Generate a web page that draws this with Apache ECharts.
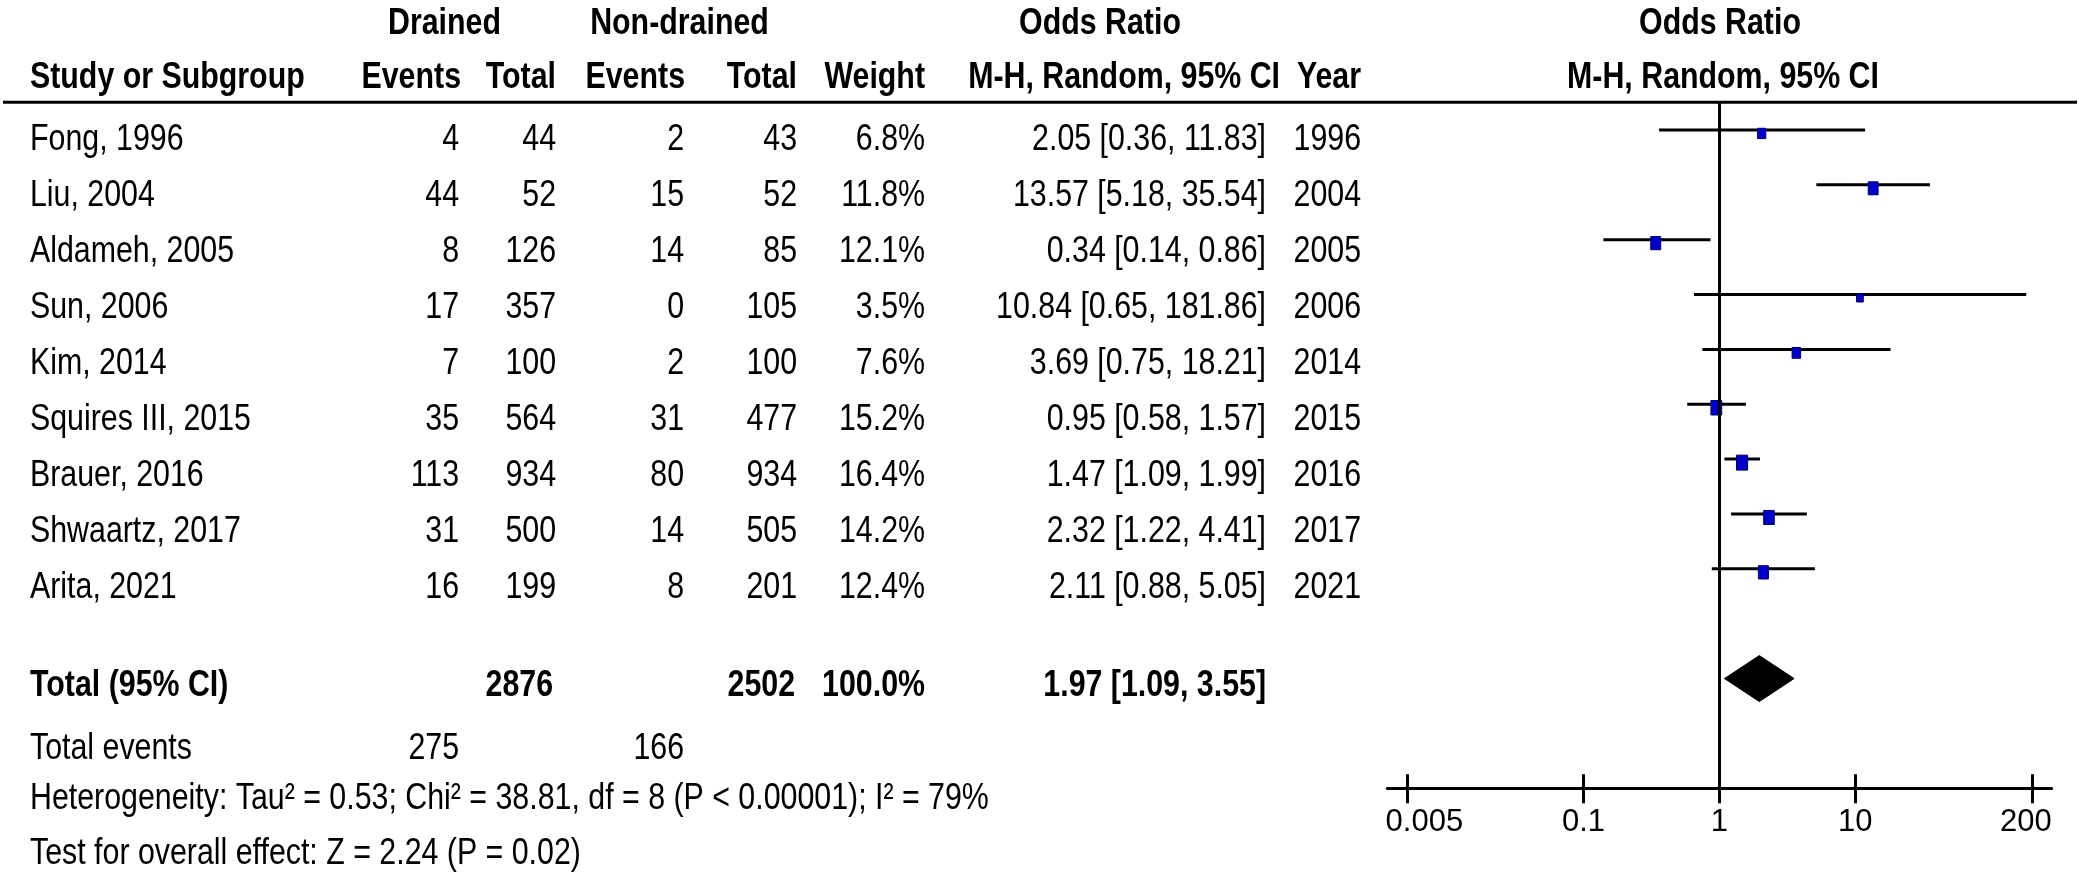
<!DOCTYPE html>
<html>
<head>
<meta charset="utf-8">
<script src="https://cdn.jsdelivr.net/npm/echarts@6/dist/echarts.min.js"></script>
<style>
html,body{margin:0;padding:0;background:#fff;}
#main{width:2079px;height:882px;}
</style>
</head>
<body>
<div id="main"></div>
<script>
// ---------------- DATA ----------------
const studies = ['Fong, 1996', 'Liu, 2004', 'Aldameh, 2005', 'Sun, 2006', 'Kim, 2014',
  'Squires III, 2015', 'Brauer, 2016', 'Shwaartz, 2017', 'Arita, 2021'];
const drainedEvents = [4, 44, 8, 17, 7, 35, 113, 31, 16];
const drainedTotal = [44, 52, 126, 357, 100, 564, 934, 500, 199];
const nonDrainedEvents = [2, 15, 14, 0, 2, 31, 80, 14, 8];
const nonDrainedTotal = [43, 52, 85, 105, 100, 477, 934, 505, 201];
const weights = [6.8, 11.8, 12.1, 3.5, 7.6, 15.2, 16.4, 14.2, 12.4];
const oddsRatios = [2.05, 13.57, 0.34, 10.84, 3.69, 0.95, 1.47, 2.32, 2.11];
const ciLower = [0.36, 5.18, 0.14, 0.65, 0.75, 0.58, 1.09, 1.22, 0.88];
const ciUpper = [11.83, 35.54, 0.86, 181.86, 18.21, 1.57, 1.99, 4.41, 5.05];
const years = [1996, 2004, 2005, 2006, 2014, 2015, 2016, 2017, 2021];

const pooledOR = 1.97;
const pooledLower = 1.09;
const pooledUpper = 3.55;
const sumDrainedTotal = 2876;
const sumNonDrainedTotal = 2502;
const sumDrainedEvents = 275;
const sumNonDrainedEvents = 166;
const totalWeightLabel = '100.0%';

const axisTickValues = [0.005, 0.1, 1, 10, 200];
const axisTickLabels = ['0.005', '0.1', '1', '10', '200'];
const nullValue = 1;

const heterogeneityText = 'Heterogeneity: Tau\u00B2 = 0.53; Chi\u00B2 = 38.81, df = 8 (P < 0.00001); I\u00B2 = 79%';
const overallEffectText = 'Test for overall effect: Z = 2.24 (P = 0.02)';

// ---------------- FONT ----------------
const NARROW = (function () {
  try {
    const c = document.createElement('canvas').getContext('2d');
    const s = 'Heterogeneity Study or Subgroup 0123456789';
    c.font = '40px "Liberation Sans"';
    const a = c.measureText(s).width;
    c.font = '40px "Liberation Sans Narrow", "Liberation Sans"';
    const b = c.measureText(s).width;
    return b < a * 0.9;
  } catch (e) { return false; }
})();
const FONT = NARROW ? '"Liberation Sans Narrow", "Arial Narrow", sans-serif' : '"Liberation Sans", Arial, sans-serif';
const SX = NARROW ? 1 : 0.82;
const FS = 37;
const AXFS = NARROW ? FS : 31;

function txt(str, x, y, align, bold) {
  return {
    type: 'text', x: x, y: y, scaleX: SX, scaleY: 1, silent: true,
    style: {
      text: str, x: 0, y: 0,
      align: align, textAlign: align,
      verticalAlign: 'middle', textVerticalAlign: 'middle',
      fontFamily: FONT, fontSize: FS, fontWeight: bold ? 'bold' : 'normal',
      fill: '#000'
    }
  };
}

// ---------------- LAYOUT ----------------
const colStudyX = 30;
const colDrEvR = 459, colDrTotR = 556, colNdEvR = 684, colNdTotR = 797, colWR = 925, colCIR = 1266, colYearR = 1361;
const head1Y = 23.5, head2Y = 77.5;
const row0Y = 140, rowH = 56;
const totalY = 686, totEventsY = 749, hetY = 799, testY = 854;

const g = [];
// header
g.push(txt('Drained', 444.5, head1Y, 'center', true));
g.push(txt('Non-drained', 679.5, head1Y, 'center', true));
g.push(txt('Odds Ratio', 1100, head1Y, 'center', true));
g.push(txt('Odds Ratio', 1720, head1Y, 'center', true));
g.push(txt('Study or Subgroup', colStudyX, head2Y, 'left', true));
g.push(txt('Events', colDrEvR + 2, head2Y, 'right', true));
g.push(txt('Total', colDrTotR, head2Y, 'right', true));
g.push(txt('Events', colNdEvR + 1, head2Y, 'right', true));
g.push(txt('Total', colNdTotR, head2Y, 'right', true));
g.push(txt('Weight', colWR, head2Y, 'right', true));
g.push(txt('M-H, Random, 95% CI', 1280, head2Y, 'right', true));
g.push(txt('Year', colYearR, head2Y, 'right', true));
g.push(txt('M-H, Random, 95% CI', 1723, head2Y, 'center', true));
// header rule
g.push({ type: 'line', silent: true, shape: { x1: 3, y1: 102.3, x2: 2077, y2: 102.3 }, style: { stroke: '#000', lineWidth: 3 } });

// rows
studies.forEach(function (s, i) {
  const y = row0Y + i * rowH;
  g.push(txt(s, colStudyX, y, 'left', false));
  g.push(txt(String(drainedEvents[i]), colDrEvR, y, 'right', false));
  g.push(txt(String(drainedTotal[i]), colDrTotR, y, 'right', false));
  g.push(txt(String(nonDrainedEvents[i]), colNdEvR, y, 'right', false));
  g.push(txt(String(nonDrainedTotal[i]), colNdTotR, y, 'right', false));
  g.push(txt(weights[i].toFixed(1) + '%', colWR, y, 'right', false));
  g.push(txt(oddsRatios[i].toFixed(2) + ' [' + ciLower[i].toFixed(2) + ', ' + ciUpper[i].toFixed(2) + ']', colCIR, y, 'right', false));
  g.push(txt(String(years[i]), colYearR, y, 'right', false));
});

// totals
g.push(txt('Total (95% CI)', colStudyX, totalY, 'left', true));
g.push(txt(String(sumDrainedTotal), colDrTotR - 3, totalY, 'right', true));
g.push(txt(String(sumNonDrainedTotal), colNdTotR - 2, totalY, 'right', true));
g.push(txt(totalWeightLabel, colWR, totalY, 'right', true));
g.push(txt(pooledOR.toFixed(2) + ' [' + pooledLower.toFixed(2) + ', ' + pooledUpper.toFixed(2) + ']', colCIR, totalY, 'right', true));
g.push(txt('Total events', colStudyX, totEventsY, 'left', false));
g.push(txt(String(sumDrainedEvents), colDrEvR, totEventsY, 'right', false));
g.push(txt(String(sumNonDrainedEvents), colNdEvR, totEventsY, 'right', false));
g.push(txt(heterogeneityText, colStudyX, hetY, 'left', false));
g.push(txt(overallEffectText, colStudyX, testY, 'left', false));

// ---------------- SERIES DATA ----------------
const studyData = studies.map(function (s, i) {
  return [oddsRatios[i], i, ciLower[i], ciUpper[i], weights[i]];
});
const pooledRow = studies.length + 1;
const axisRow = studies.length + 3;

const chart = echarts.init(document.getElementById('main'), null, { renderer: 'canvas' });

const labelFmt = function (v) {
  let best = 0, bd = Infinity;
  axisTickValues.forEach(function (t, j) {
    const d = Math.abs(Math.log10(t) - Math.log10(v));
    if (d < bd) { bd = d; best = j; }
  });
  if (best === 0) return '{first|' + axisTickLabels[best] + '}';
  if (best === axisTickValues.length - 1) return '{last|' + axisTickLabels[best] + '}';
  return axisTickLabels[best];
};
const richBase = { fontFamily: FONT, fontSize: AXFS, color: '#000' };

const option = {
  animation: false,
  backgroundColor: '#fff',
  grid: { left: 1387.3, top: 102.5, width: 664.4, height: 685.8, containLabel: false },
  xAxis: [{
    type: 'log', logBase: 10, min: 0.00359, max: 280, position: 'bottom',
    axisLine: { show: true, onZero: false, lineStyle: { color: '#000', width: 3 } },
    axisTick: { show: true, inside: false, length: 15, customValues: axisTickValues, lineStyle: { color: '#000', width: 3 } },
    axisLabel: {
      show: true, customValues: axisTickValues, formatter: labelFmt, margin: 19,
      color: '#000', fontFamily: FONT, fontSize: AXFS,
      rich: {
        first: Object.assign({ padding: [0, 0, 0, 35] }, richBase),
        last: Object.assign({ padding: [0, 12, 0, 0] }, richBase)
      }
    },
    splitLine: { show: false }, minorTick: { show: false }
  }, {
    type: 'log', logBase: 10, min: 0.00359, max: 280, position: 'bottom', gridIndex: 0,
    axisLine: { show: false, onZero: false },
    axisTick: { show: true, inside: true, length: 14, customValues: axisTickValues, lineStyle: { color: '#000', width: 3 } },
    axisLabel: { show: false },
    splitLine: { show: false }
  }],
  yAxis: { type: 'value', min: -0.5, max: axisRow, inverse: true, show: false, splitLine: { show: false } },
  series: [{
    type: 'custom',
    name: 'Studies',
    xAxisIndex: 0,
    data: studyData,
    encode: { x: [0, 2, 3], y: 1 },
    renderItem: function (params, api) {
      const or = api.value(0), k = api.value(1), lo = api.value(2), hi = api.value(3), w = api.value(4);
      const pLo = api.coord([lo, k]), pHi = api.coord([hi, k]), pC = api.coord([or, k]);
      const sw = 3 + 2.0 * Math.sqrt(w), sh = 2 + 3.2 * Math.sqrt(w);
      return {
        type: 'group', children: [
          { type: 'line', shape: { x1: pLo[0], y1: pLo[1], x2: pHi[0], y2: pHi[1] }, style: { stroke: '#000', lineWidth: 3 } },
          { type: 'rect', shape: { x: pC[0] - sw / 2, y: pC[1] + 3.5 - sh / 2, width: sw, height: sh },
            style: { fill: '#0000CD', stroke: '#00006A', lineWidth: 1 } }
        ]
      };
    },
    markLine: {
      silent: true, symbol: ['none', 'none'], label: { show: false },
      lineStyle: { color: '#000', width: 3, type: 'solid' },
      data: [{ xAxis: nullValue }]
    },
    z: 3
  }, {
    type: 'custom',
    name: 'Pooled',
    xAxisIndex: 0,
    data: [[pooledOR, pooledRow, pooledLower, pooledUpper]],
    encode: { x: [0, 2, 3], y: 1 },
    renderItem: function (params, api) {
      const or = api.value(0), k = api.value(1), lo = api.value(2), hi = api.value(3);
      const pLo = api.coord([lo, k]), pHi = api.coord([hi, k]), pC = api.coord([or, k]);
      const h = 23;
      return {
        type: 'polygon',
        shape: { points: [[pLo[0], pC[1]], [pC[0], pC[1] - h], [pHi[0], pC[1]], [pC[0], pC[1] + h]] },
        style: { fill: '#000', stroke: '#000', lineWidth: 1 }
      };
    },
    z: 3
  }],
  graphic: { elements: g }
};
chart.setOption(option);
</script>
</body>
</html>
